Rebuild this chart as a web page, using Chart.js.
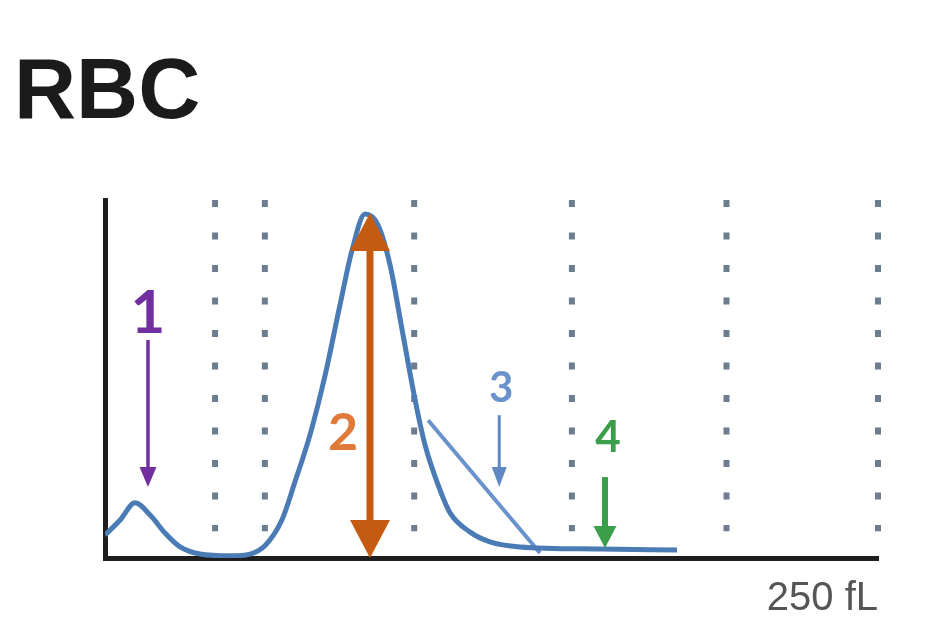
<!DOCTYPE html>
<html>
<head>
<meta charset="utf-8">
<script src="https://cdn.jsdelivr.net/npm/chart.js@4.4.1/dist/chart.umd.min.js"></script>
<style>
  html, body { margin: 0; padding: 0; background: #ffffff; }
  #wrap { position: relative; width: 938px; height: 634px; }
</style>
</head>
<body>
<div id="wrap"><canvas id="c"></canvas></div>
<script>
// ---- data ----
const volumeFL = [0, 4.9, 9.7, 14.6, 19.4, 24.3, 30.7, 40.4, 46.9, 51.7, 57.2, 61.4, 66.3, 71.2, 76.0, 79.9, 84.1, 88.3, 92.2, 96.1, 100.3, 103.5, 107.4, 111.6, 118.0, 124.5, 134.2, 160.1, 185.0];
const cellCount = [6.4, 10.6, 15.4, 12.0, 7.0, 3.1, 1.1, 0.6, 1.1, 3.4, 10.6, 21.2, 34.4, 51.1, 70.7, 86.0, 96.1, 93.0, 81.8, 63.7, 44.1, 31.6, 21.2, 12.6, 7.3, 4.5, 3.1, 2.5, 2.2];
const thresholdX = [35.6, 51.7, 100, 151, 201, 250];
const thresholdTop = 100;
const thresholdBottom = 7.5;
const slopeLineX = [104.5, 140.7];
const slopeLineY = [38.5, 1.4];
const axisLabel = '250 fL';
const titleText = 'RBC';

// annotation arrows: x, y start, y tip
const arrowLabels = ['1', '2', '3', '4'];
const arrowX = [13.9, 85.7, 127.5, 161.7];
const arrowFromY = [60.9, 96.4, 39.9, 22.6];
const arrowToY = [19.8, 0, 19.8, 2.8];
const labelX = [13.9, 77.0, 128.1, 162.7];
const labelY = [62.8, 30.2, 43.6, 29.6];

// ---- styles ----
const arrowColors = ['#7030a0', '#c55a11', '#6089c4', '#3a9f48'];
const labelColors = ['#7030a0', '#e07b39', '#6a93cc', '#3a9f48'];
const labelSizes = [60, 52, 42, 44];
const shaftW = [3.5, 7, 3, 6];
const headW = [17, 40, 15, 23];
const headL = [20, 38, 20, 22];
const doubleHead = [false, true, false, false];

const datasets = [];
datasets.push({
  label: 'RBC',
  data: volumeFL.map((v, i) => ({ x: v, y: cellCount[i] })),
  borderColor: '#4b7bb5',
  borderWidth: 5,
  pointRadius: 0,
  cubicInterpolationMode: 'monotone',
  fill: false,
  order: 0
});
datasets.push({
  label: 'slope',
  data: slopeLineX.map((v, i) => ({ x: v, y: slopeLineY[i] })),
  borderColor: '#6a93cc',
  borderWidth: 4,
  pointRadius: 0,
  order: 0
});
thresholdX.forEach(tx => {
  datasets.push({
    label: 'th',
    data: [{ x: tx, y: thresholdTop }, { x: tx, y: thresholdBottom }],
    borderColor: '#6b7d8e',
    borderWidth: 6,
    borderDash: [7, 25.5],
    borderCapStyle: 'butt',
    pointRadius: 0,
    clip: false,
    order: 2
  });
});

const arrowPlugin = {
  id: 'arrows',
  afterDatasetsDraw(chart) {
    const ctx = chart.ctx;
    const xs = chart.scales.x, ys = chart.scales.y;
    ctx.save();
    arrowX.forEach((ax, i) => {
      const px = xs.getPixelForValue(ax);
      const y1 = ys.getPixelForValue(arrowFromY[i]);
      const y2 = ys.getPixelForValue(arrowToY[i]);
      const dir = y2 > y1 ? 1 : -1;
      ctx.fillStyle = arrowColors[i];
      ctx.strokeStyle = arrowColors[i];
      ctx.lineWidth = shaftW[i];
      ctx.lineCap = 'butt';
      let sStart = y1;
      if (doubleHead[i]) {
        sStart = y1 + dir * headL[i] * 0.9;
        ctx.beginPath();
        ctx.moveTo(px, y1);
        ctx.lineTo(px - headW[i] / 2, y1 + dir * headL[i]);
        ctx.lineTo(px + headW[i] / 2, y1 + dir * headL[i]);
        ctx.closePath();
        ctx.fill();
      }
      ctx.beginPath();
      ctx.moveTo(px, sStart);
      ctx.lineTo(px, y2 - dir * headL[i] * 0.9);
      ctx.stroke();
      ctx.beginPath();
      ctx.moveTo(px, y2);
      ctx.lineTo(px - headW[i] / 2, y2 - dir * headL[i]);
      ctx.lineTo(px + headW[i] / 2, y2 - dir * headL[i]);
      ctx.closePath();
      ctx.fill();

      ctx.font = 'bold ' + labelSizes[i] + 'px Lato, "Open Sans", sans-serif';
      ctx.textAlign = 'center';
      ctx.textBaseline = 'alphabetic';
      ctx.fillStyle = labelColors[i];
      ctx.fillText(arrowLabels[i], xs.getPixelForValue(labelX[i]), ys.getPixelForValue(labelY[i]));
    });
    ctx.restore();
  }
};

new Chart(document.getElementById('c'), {
  type: 'line',
  data: { datasets },
  options: {
    responsive: true,
    maintainAspectRatio: false,
    animation: false,
    layout: { padding: { left: 14, right: 60, top: 0, bottom: 0 } },
    plugins: {
      legend: { display: false },
      tooltip: { enabled: false },
      title: {
        display: true,
        text: titleText,
        align: 'start',
        color: '#1b1b1b',
        font: { family: '"Liberation Sans", Arial, sans-serif', weight: 'bold', size: 86 },
        padding: { top: 43, bottom: 53.8 }
      }
    },
    scales: {
      x: {
        type: 'linear',
        min: 0,
        max: 250,
        grid: { display: false },
        ticks: { display: false },
        border: { display: true, color: '#1e1e1e', width: 5 },
        title: {
          display: true,
          text: axisLabel,
          align: 'end',
          color: '#555555',
          font: { family: '"Liberation Sans", Arial, sans-serif', size: 40 },
          padding: { top: 0, bottom: 11 }
        },
        afterFit(s) { s.height = 76; }
      },
      y: {
        type: 'linear',
        min: 0,
        max: 100,
        grid: { display: false },
        ticks: { display: false },
        border: { display: true, color: '#1e1e1e', width: 5 },
        afterFit(s) { s.width = 91; }
      }
    }
  },
  plugins: [arrowPlugin]
});
</script>
</body>
</html>
